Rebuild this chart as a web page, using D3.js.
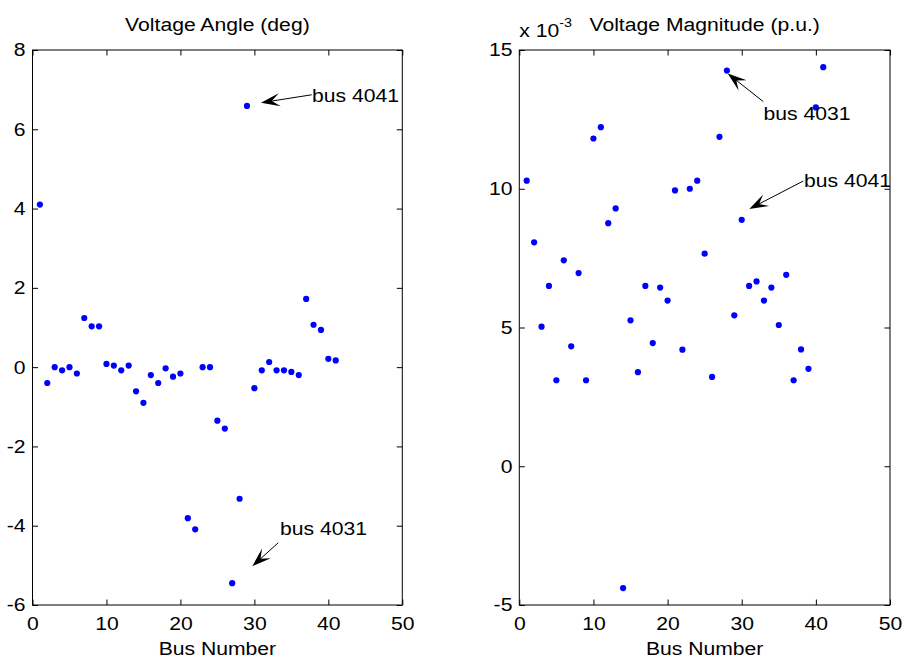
<!DOCTYPE html>
<html>
<head>
<meta charset="utf-8">
<script src="https://cdn.jsdelivr.net/npm/d3@7"></script>
<style>
	body { margin: 0; background: #fff; }
	text { font-family: "Liberation Sans", Arial, sans-serif; fill: #000; }
</style>
</head>
<body>
<div id="chart"></div>
<script>
/* global d3 */

// bus index on the x axis
let busNumbers = [1, 2, 3, 4, 5, 6, 7, 8, 9, 10, 11, 12, 13, 14, 15, 16, 17, 18, 19, 20,
	21, 22, 23, 24, 25, 26, 27, 28, 29, 30, 31, 32, 33, 34, 35, 36, 37, 38, 39, 40, 41];

// voltage angle change (deg)
let angleValues = [4.10, -0.40, 0.00, -0.08, 0.00, -0.16, 1.24, 1.03, 1.03, 0.08,
	0.04, -0.08, 0.04, -0.61, -0.90, -0.20, -0.40, -0.03, -0.24, -0.16,
	-3.81, -4.09, 0.00, 0.00, -1.35, -1.55, -5.45, -3.32, 6.59, -0.53,
	-0.08, 0.13, -0.08, -0.08, -0.12, -0.20, 1.72, 1.07, 0.94, 0.21, 0.17];

// voltage magnitude change (p.u., in units of 1e-3)
let magnitudeValues = [10.29, 8.07, 5.03, 6.50, 3.10, 7.42, 4.32, 6.96, 3.10, 11.81,
	12.22, 8.76, 9.29, -4.39, 5.26, 3.39, 6.50, 4.44, 6.44, 5.97,
	9.94, 4.20, 10.00, 10.29, 7.66, 3.22, 11.87, 14.26, 5.44, 8.88,
	6.50, 6.66, 5.97, 6.44, 5.09, 6.90, 3.10, 4.21, 3.51, 12.93, 14.38];

let xTicks = [0, 10, 20, 30, 40, 50];
let angleTicks = [-6, -4, -2, 0, 2, 4, 6, 8];
let magnitudeTicks = [-5, 0, 5, 10, 15];

// text arrows, in data units: head, tail, text baseline start
let angleNotes = [
	{ label: "bus 4041", head: [30.89, 6.67], tail: [37.75, 6.87], at: [37.8, 6.68] },
	{ label: "bus 4031", head: [29.72, -5.02], tail: [33.23, -4.43], at: [33.46, -4.24] }
];
let magnitudeNotes = [
	{ label: "bus 4031", head: [28.11, 14.15], tail: [32.91, 13.14], at: [32.94, 12.47] },
	{ label: "bus 4041", head: [31.02, 9.27], tail: [38.31, 10.28], at: [38.4, 10.07] }
];

let WIDTH = 902;
let HEIGHT = 659;
let FONT = 18.4;
let STRETCH = 1.15; // the reference text is a bit wider than normal
let TICK = 5.5;

let svg = d3.select("#chart").append("svg").
	attr("width", WIDTH).
	attr("height", HEIGHT).
	attr("viewBox", `0, 0, ${WIDTH}, ${HEIGHT}`);

function stretched(g, x, y) {
	return g.append("text").
		attr("transform", `translate(${x}, ${y}) scale(${STRETCH}, 1)`).
		style("font-size", FONT + "px");
}

function drawPanel({ left, right, top, bottom, yDomain, yTicks, values, notes, title }) {
	let x = d3.scaleLinear().domain([0, 50]).range([left, right]);
	let y = d3.scaleLinear().domain(yDomain).range([bottom, top]);
	let g = svg.append("g");

	let bottomAxis = g.append("g").
		attr("transform", `translate(0, ${bottom})`).
		call(d3.axisBottom(x).tickValues(xTicks).tickSizeInner(-TICK).tickSizeOuter(0).tickPadding(11.5));
	let leftAxis = g.append("g").
		attr("transform", `translate(${left}, 0)`).
		call(d3.axisLeft(y).tickValues(yTicks).tickSizeInner(-TICK).tickSizeOuter(0).tickPadding(6));
	g.append("g").
		attr("transform", `translate(0, ${top})`).
		call(d3.axisTop(x).tickValues(xTicks).tickSizeInner(-TICK).tickSizeOuter(0).tickFormat(""));
	g.append("g").
		attr("transform", `translate(${right}, 0)`).
		call(d3.axisRight(y).tickValues(yTicks).tickSizeInner(-TICK).tickSizeOuter(0).tickFormat(""));

	g.selectAll(".domain").remove();
	g.selectAll(".tick line").attr("stroke", "#000");
	g.selectAll(".tick text").
		style("font-size", FONT + "px").
		style("font-family", "\"Liberation Sans\", Arial, sans-serif");
	bottomAxis.selectAll(".tick text").attr("transform", `scale(${STRETCH}, 1)`);
	leftAxis.selectAll(".tick text").
		attr("transform", `scale(${STRETCH}, 1)`).
		text(d => d < 0 ? "-" + Math.abs(d) : d);

	g.append("rect").
		attr("x", left).
		attr("y", top).
		attr("width", right - left).
		attr("height", bottom - top).
		attr("fill", "none").
		attr("stroke", "#000").
		attr("stroke-width", 1);

	g.append("g").
		selectAll("circle").
		data(values).
		join("circle").
		attr("cx", (d, i) => x(busNumbers[i])).
		attr("cy", d => y(d)).
		attr("r", 3.1).
		attr("fill", "#0000ff");

	notes.forEach(n => {
		let hx = x(n.head[0]), hy = y(n.head[1]);
		let tx = x(n.tail[0]), ty = y(n.tail[1]);
		let angle = Math.atan2(hy - ty, hx - tx) * 180 / Math.PI;
		g.append("line").
			attr("x1", tx).
			attr("y1", ty).
			attr("x2", hx - 8 * Math.cos(angle * Math.PI / 180)).
			attr("y2", hy - 8 * Math.sin(angle * Math.PI / 180)).
			attr("stroke", "#000").
			attr("stroke-width", 1);
		g.append("path").
			attr("d", "M0,0L-19,-6.5L-11,0L-19,6.5Z").
			attr("transform", `translate(${hx}, ${hy}) rotate(${angle})`).
			attr("fill", "#000");
		stretched(g, x(n.at[0]), y(n.at[1])).text(n.label);
	});

	stretched(g, (left + right) / 2, 31).
		attr("text-anchor", "middle").
		text(title);
	stretched(g, (left + right) / 2, 655).
		attr("text-anchor", "middle").
		text("Bus Number");

	return { x, y, g };
}

drawPanel({
	left: 32.5, right: 402.3, top: 50, bottom: 605,
	yDomain: [-6, 8], yTicks: angleTicks,
	values: angleValues, notes: angleNotes,
	title: "Voltage Angle (deg)"
});

let mag = drawPanel({
	left: 519.3, right: 890, top: 50, bottom: 605,
	yDomain: [-5, 15], yTicks: magnitudeTicks,
	values: magnitudeValues, notes: magnitudeNotes,
	title: "Voltage Magnitude (p.u.)"
});

// exponent label for the magnitude axis
let expo = stretched(mag.g, 519.3, 36.5);
expo.append("tspan").text("x 10");
expo.append("tspan").
	attr("dy", -10).
	style("font-size", "12.5px").
	text("-3");
</script>
</body>
</html>
